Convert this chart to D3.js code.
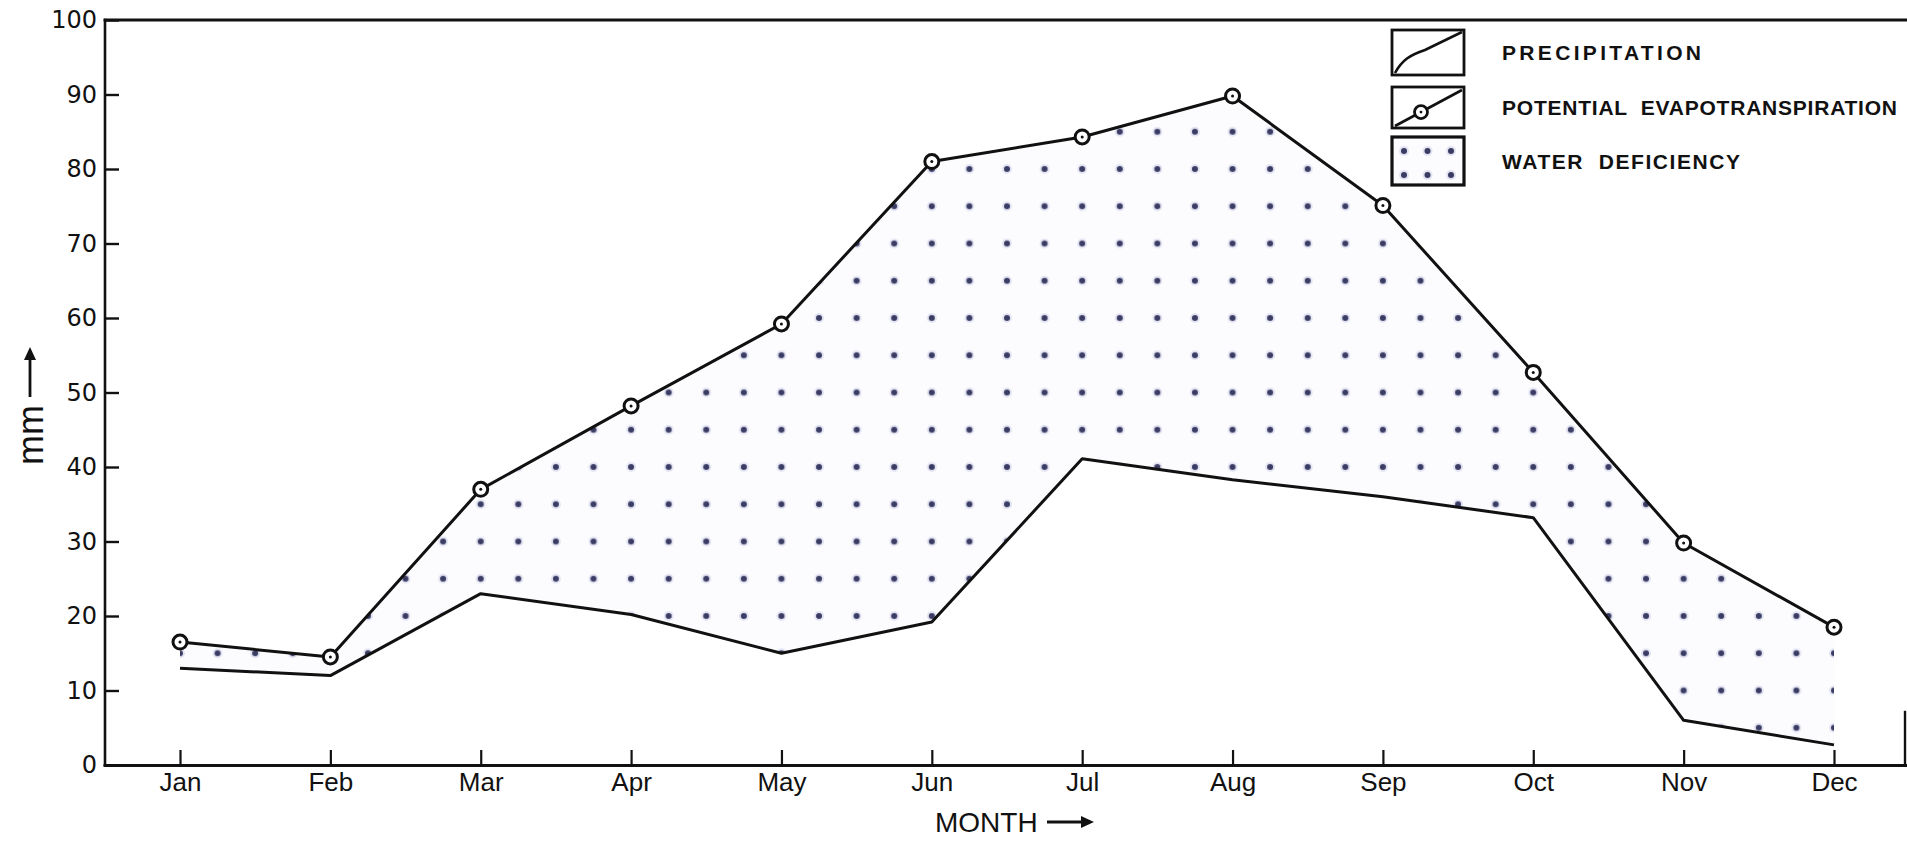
<!DOCTYPE html>
<html>
<head>
<meta charset="utf-8">
<title>Water balance</title>
<script src="https://cdn.jsdelivr.net/npm/d3@7"></script>
<style>
  html, body { margin: 0; padding: 0; background: #fff; }
  svg { display: block; }
</style>
</head>
<body>
<svg id="chart" width="1907" height="841"></svg>
<script>
// ---- data (mm per month) ----
const months = ["Jan", "Feb", "Mar", "Apr", "May", "Jun", "Jul", "Aug", "Sep", "Oct", "Nov", "Dec"];
const precipitation = [13, 12, 23, 20.2, 15, 19.2, 41.1, 38.3, 36, 33.2, 6, 2.7];
const evapotranspiration = [16.5, 14.5, 37, 48.2, 59.2, 81, 84.3, 89.8, 75.1, 52.7, 29.8, 18.5];
const yTicks = [0, 10, 20, 30, 40, 50, 60, 70, 80, 90, 100];
const legendLabels = ["PRECIPITATION", "POTENTIAL  EVAPOTRANSPIRATION", "WATER  DEFICIENCY"];
const xTitle = "MONTH";
const yTitle = "mm";

// ---- layout ----
const W = 1907, H = 841;
const frame = { left: 105, top: 20, bottom: 765, right: 1905 };
const ink = "#111";
const dotInk = "#3b3c64", dotHalo = "#c3c5e2";

const svg = d3.select("#chart");

const rows = months.map((m, i) => ({ month: m, p: precipitation[i], e: evapotranspiration[i] }));

const x = d3.scalePoint().domain(months).range([180, 1834]);
const y = d3.scaleLinear().domain([0, 100]).range([frame.bottom, frame.top]);

// dot screen for the deficiency area: one dot every quarter month and every 5 mm
const defs = svg.append("defs");
const dotW = x.step() / 4;
const dotH = y(0) - y(5);
const pat = defs.append("pattern")
  .attr("id", "deficit-dots")
  .attr("patternUnits", "userSpaceOnUse")
  .attr("x", x(months[0]) - dotW / 2)
  .attr("y", y(0) - dotH / 2)
  .attr("width", dotW)
  .attr("height", dotH);
pat.append("circle").attr("cx", dotW / 2).attr("cy", dotH / 2).attr("r", 5)
  .attr("fill", dotHalo).attr("opacity", 0.45);
pat.append("circle").attr("cx", dotW / 2).attr("cy", dotH / 2).attr("r", 3)
  .attr("fill", dotInk);

// ---- water deficiency area (between precipitation and PET) ----
const area = d3.area()
  .x(d => x(d.month))
  .y0(d => y(d.p))
  .y1(d => y(d.e));

svg.append("path").datum(rows).attr("d", area).attr("fill", "#fcfcfe");
svg.append("path").datum(rows).attr("d", area).attr("fill", "url(#deficit-dots)");

// ---- frame ----
const frameG = svg.append("g").attr("stroke", ink).attr("fill", "none").attr("stroke-linecap", "square");
frameG.append("line").attr("x1", frame.left).attr("x2", frame.left).attr("y1", frame.top).attr("y2", frame.bottom).attr("stroke-width", 2.6);
frameG.append("line").attr("x1", frame.left).attr("x2", W).attr("y1", frame.top).attr("y2", frame.top).attr("stroke-width", 2.8);
frameG.append("line").attr("x1", frame.left).attr("x2", W).attr("y1", frame.bottom + 0.5).attr("y2", frame.bottom + 0.5).attr("stroke-width", 3);
frameG.append("line").attr("x1", frame.right).attr("x2", frame.right).attr("y1", 712).attr("y2", frame.bottom).attr("stroke-width", 2.4);

// ---- axes ----
const yAxis = d3.axisLeft(y).tickValues(yTicks).tickSize(-14).tickPadding(8).tickSizeOuter(0);
const gy = svg.append("g").attr("transform", `translate(${frame.left},0)`).call(yAxis);
gy.select(".domain").remove();
gy.selectAll(".tick line").attr("stroke", ink).attr("stroke-width", 2.4);
gy.selectAll(".tick text")
  .attr("font-family", "'DejaVu Sans', sans-serif")
  .attr("font-size", 24)
  .attr("fill", ink);

const xAxis = d3.axisBottom(x).tickSize(-15).tickPadding(8).tickSizeOuter(0);
const gx = svg.append("g").attr("transform", `translate(0,${frame.bottom})`).call(xAxis);
gx.select(".domain").remove();
gx.selectAll(".tick line").attr("stroke", ink).attr("stroke-width", 2.2);
gx.selectAll(".tick text")
  .attr("font-family", "'Liberation Sans', Arial, sans-serif")
  .attr("font-size", 26)
  .attr("fill", ink);

// ---- lines ----
const lineOf = key => d3.line().x(d => x(d.month)).y(d => y(d[key]));

svg.append("path").datum(rows)
  .attr("d", lineOf("p"))
  .attr("fill", "none").attr("stroke", ink).attr("stroke-width", 3)
  .attr("stroke-linejoin", "round");

svg.append("path").datum(rows)
  .attr("d", lineOf("e"))
  .attr("fill", "none").attr("stroke", ink).attr("stroke-width", 3)
  .attr("stroke-linejoin", "round");

const marks = svg.append("g").selectAll("g").data(rows).join("g")
  .attr("transform", d => `translate(${x(d.month)},${y(d.e)})`);
marks.append("circle").attr("r", 7).attr("fill", "#fff").attr("stroke", ink).attr("stroke-width", 3);
marks.append("circle").attr("r", 1.5).attr("fill", ink);

// ---- axis titles ----
svg.append("text")
  .attr("x", 935).attr("y", 832)
  .attr("font-family", "'Liberation Sans', Arial, sans-serif")
  .attr("font-size", 28).attr("fill", ink)
  .text(xTitle);

const arrowHead = (g, tipX, tipY, dir) => {
  // dir: "right" or "up"
  const pts = dir === "right"
    ? [[tipX, tipY], [tipX - 13, tipY - 6], [tipX - 13, tipY + 6]]
    : [[tipX, tipY], [tipX - 6, tipY + 13], [tipX + 6, tipY + 13]];
  g.append("path").attr("d", d3.line()(pts) + "Z").attr("fill", ink);
};

const xArrow = svg.append("g");
xArrow.append("line").attr("x1", 1047).attr("x2", 1084).attr("y1", 822).attr("y2", 822)
  .attr("stroke", ink).attr("stroke-width", 3.2);
arrowHead(xArrow, 1094, 822, "right");

svg.append("text")
  .attr("transform", "translate(43,465) rotate(-90)")
  .attr("font-family", "'Liberation Sans', Arial, sans-serif")
  .attr("font-size", 36).attr("fill", ink)
  .text(yTitle);

const yArrow = svg.append("g");
yArrow.append("line").attr("x1", 30).attr("x2", 30).attr("y1", 397).attr("y2", 358)
  .attr("stroke", ink).attr("stroke-width", 2.8);
arrowHead(yArrow, 30, 347, "up");

// ---- legend ----
const legendBoxes = [
  { x: 1392, y: 30, w: 72, h: 45 },
  { x: 1392, y: 87, w: 72, h: 41 },
  { x: 1392, y: 137, w: 72, h: 48 }
];
const legendText = { x: 1502, widths: [199, 395, 238], size: 21 };

const lg = svg.append("g");
legendBoxes.forEach((b, i) => {
  lg.append("rect").attr("x", b.x).attr("y", b.y).attr("width", b.w).attr("height", b.h)
    .attr("fill", i === 2 ? "#fcfcfe" : "#fff").attr("stroke", ink).attr("stroke-width", i === 2 ? 3.2 : 2.8);
  lg.append("text")
    .attr("x", legendText.x)
    .attr("y", b.y + b.h / 2 + 7.5)
    .attr("font-family", "'Liberation Sans', Arial, sans-serif")
    .attr("font-weight", "bold")
    .attr("font-size", legendText.size)
    .attr("fill", ink)
    .attr("textLength", legendText.widths[i])
    .attr("lengthAdjust", "spacing")
    .style("white-space", "pre")
    .text(legendLabels[i]);
});

// precipitation sample: rising curve
const b0 = legendBoxes[0];
lg.append("path")
  .attr("d", `M${b0.x + 3},${b0.y + b0.h - 2} C${b0.x + 10},${b0.y + 30} ${b0.x + 18},${b0.y + 25} ${b0.x + 33},${b0.y + 20} L${b0.x + b0.w - 2},${b0.y + 2}`)
  .attr("fill", "none").attr("stroke", ink).attr("stroke-width", 2.6);

// PET sample: straight rising line with marker
const b1 = legendBoxes[1];
lg.append("line")
  .attr("x1", b1.x + 3).attr("y1", b1.y + b1.h - 2)
  .attr("x2", b1.x + b1.w - 2).attr("y2", b1.y + 3)
  .attr("stroke", ink).attr("stroke-width", 2.6);
const m1x = b1.x + 29, m1y = b1.y + b1.h - 2 - (b1.h - 5) * (26 / (b1.w - 5));
lg.append("circle").attr("cx", m1x).attr("cy", m1y).attr("r", 6.5)
  .attr("fill", "#fff").attr("stroke", ink).attr("stroke-width", 2.8);
lg.append("circle").attr("cx", m1x).attr("cy", m1y).attr("r", 1.4).attr("fill", ink);

// deficiency sample: 3 x 2 dots
const b2 = legendBoxes[2];
[0, 1, 2].forEach(c => [0, 1].forEach(r => {
  const cx = b2.x + 12 + c * 23.5, cy = b2.y + 14 + r * 24;
  lg.append("circle").attr("cx", cx).attr("cy", cy).attr("r", 5).attr("fill", dotHalo).attr("opacity", 0.45);
  lg.append("circle").attr("cx", cx).attr("cy", cy).attr("r", 3).attr("fill", dotInk);
}));
</script>
</body>
</html>
